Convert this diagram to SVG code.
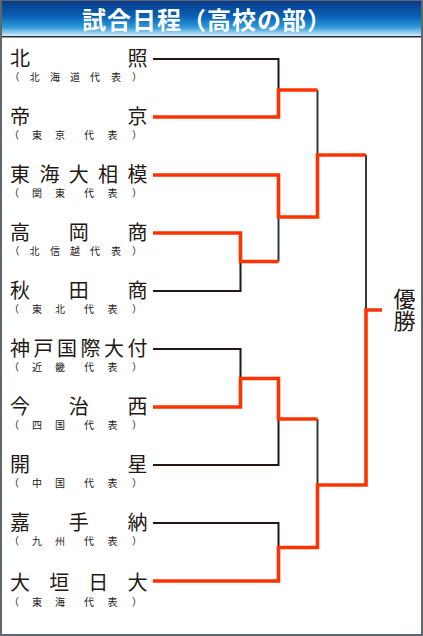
<svg xmlns="http://www.w3.org/2000/svg" width="423" height="636" viewBox="0 0 423 636">
<defs>
<linearGradient id="hg" x1="0" y1="0" x2="0" y2="1">
<stop offset="0" stop-color="#0a3a88"/>
<stop offset="0.45" stop-color="#0962b6"/>
<stop offset="0.75" stop-color="#2f9ad9"/>
<stop offset="1" stop-color="#d2ecf9"/>
</linearGradient>
<style>
.lb{font-family:"Liberation Sans","Noto Sans CJK JP",sans-serif;fill:#231815;text-anchor:middle}
.nm{font-size:20px}
.sb{font-size:10px}
.bk{fill:none;stroke:#231815;stroke-width:2;stroke-linejoin:miter;stroke-linecap:butt}
.dk{fill:none;stroke:#2e3a3f;stroke-width:2}
.rd{fill:none;stroke:#ff3300;stroke-width:3.6;stroke-linejoin:miter;stroke-linecap:butt}
</style>
</defs>
<rect x="1" y="1" width="421" height="634" fill="#ffffff" stroke="#5f686c" stroke-width="2"/>
<rect x="2" y="1" width="419" height="35" fill="url(#hg)"/>
<line x1="2" y1="36.8" x2="421" y2="36.8" stroke="#2a2d2f" stroke-width="1.6"/>
<text x="82" y="29" font-family="'Liberation Sans','Noto Sans CJK JP',sans-serif" font-size="24" font-weight="bold" fill="#ffffff" letter-spacing="1">試合日程（高校の部）</text>

<g id="connectors">
<path class="bk" d="M153,59 H278.5 V90"/>
<path class="bk" d="M153,291 H240.5 V261.5"/>
<path class="dk" d="M278.5,261.5 V217"/>
<path class="dk" d="M317.5,90 V155"/>
<path class="dk" d="M366,155 V310"/>
<path class="bk" d="M153,349 H240.5 V378.5"/>
<path class="bk" d="M153,465 H278.5 V419"/>
<path class="dk" d="M317.5,419 V485"/>
<path class="bk" d="M153,523 H278.5 V547.5"/>
<path class="rd" d="M153,117 H278.5 V90 H317.5"/>
<path class="rd" d="M153,233 H240.5 V261.5 H278.5"/>
<path class="rd" d="M153,175 H278.5 V217 H317.5 V155 H366"/>
<path class="rd" d="M153,407 H240.5 V378.5 H278.5 V419 H317.5"/>
<path class="rd" d="M153,581 H278.5 V547.5 H317.5 V485 H366 V310 H382"/>
</g>

<g id="hokusho"><text class="lb"><tspan class="nm" x="20 137.5" y="66">北照</tspan><tspan class="sb" x="14.5 34.5 55 75 95 116 137" y="81">（北海道代表）</tspan></text></g>
<g id="teikyo"><text class="lb"><tspan class="nm" x="20 137.5" y="124">帝京</tspan><tspan class="sb" x="14 37 60 89 112.5 137" y="139">（東京代表）</tspan></text></g>
<g id="tokaidaisagami"><text class="lb"><tspan class="nm" x="20 49.4 78.8 108.1 137.5" y="182">東海大相模</tspan><tspan class="sb" x="14 37 60 89 112.5 137" y="197">（関東代表）</tspan></text></g>
<g id="takaokasho"><text class="lb"><tspan class="nm" x="20 78.8 137.5" y="240">高岡商</tspan><tspan class="sb" x="14.5 34.5 55 75 95 116 137" y="255">（北信越代表）</tspan></text></g>
<g id="akitasho"><text class="lb"><tspan class="nm" x="20 78.8 137.5" y="298">秋田商</tspan><tspan class="sb" x="14 37 60 89 112.5 137" y="313">（東北代表）</tspan></text></g>
<g id="kobekokusaidaifu"><text class="lb"><tspan class="nm" x="20 43.5 67 90.5 114 137.5" y="356">神戸国際大付</tspan><tspan class="sb" x="14 37 60 89 112.5 137" y="371">（近畿代表）</tspan></text></g>
<g id="imabarinishi"><text class="lb"><tspan class="nm" x="20 78.8 137.5" y="414">今治西</tspan><tspan class="sb" x="14 37 60 89 112.5 137" y="429">（四国代表）</tspan></text></g>
<g id="kaisei"><text class="lb"><tspan class="nm" x="20 137.5" y="472">開星</tspan><tspan class="sb" x="14 37 60 89 112.5 137" y="487">（中国代表）</tspan></text></g>
<g id="kadena"><text class="lb"><tspan class="nm" x="20 78.8 137.5" y="530">嘉手納</tspan><tspan class="sb" x="14 37 60 89 112.5 137" y="545">（九州代表）</tspan></text></g>
<g id="ogakinichidai"><text class="lb"><tspan class="nm" x="20 59.2 98.3 137.5" y="590">大垣日大</tspan><tspan class="sb" x="14 37 60 89 112.5 137" y="606">（東海代表）</tspan></text></g>
<g id="champion"><text class="lb" x="402" y="310" font-size="22" writing-mode="vertical-rl">優勝</text></g>
</svg>
